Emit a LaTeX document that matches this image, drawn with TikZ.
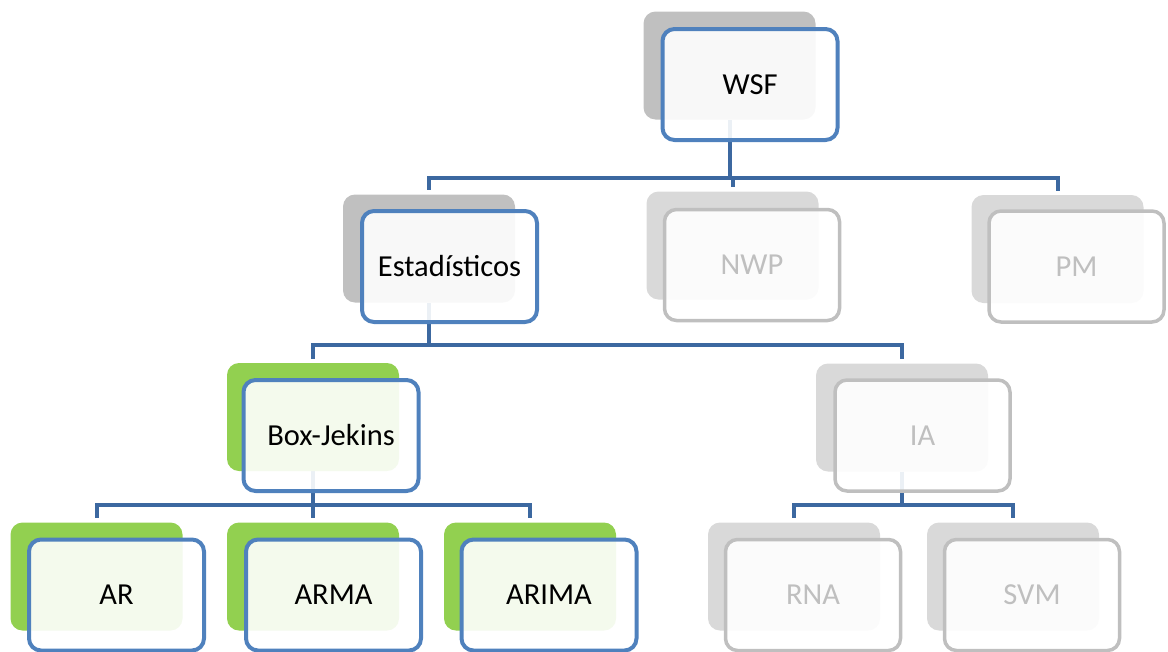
\documentclass[tikz,border=0pt]{standalone}
\usepackage{fontspec}
\setmainfont{Carlito}
\pgfdeclarelayer{bg}
\pgfsetlayers{bg,main}
\definecolor{borderblue}{RGB}{79,129,189}
\definecolor{connblue}{RGB}{60,104,160}
\definecolor{backgrayA}{RGB}{192,192,192}
\definecolor{backgrayI}{RGB}{217,217,217}
\definecolor{backgreen}{RGB}{146,208,80}
\definecolor{bordergray}{RGB}{191,191,191}
\definecolor{textgray}{RGB}{191,191,191}
\begin{document}
\begin{tikzpicture}[x=1pt,y=-1pt,
  backbox/.style={rectangle, rounded corners=12pt, minimum width=172pt, minimum height=108pt, inner sep=0pt},
  backA/.style={backbox, fill=backgrayA},
  backG/.style={backbox, fill=backgreen},
  backI/.style={backbox, fill=backgrayI},
  frontbox/.style={rectangle, rounded corners=12pt, minimum width=175pt, minimum height=111pt, inner sep=0pt,
    fill=white, fill opacity=0.9, text opacity=1, font=\fontsize{30.5}{36}\selectfont},
  frontA/.style={frontbox, draw=borderblue, line width=4pt, text=black},
  frontI/.style={frontbox, draw=bordergray, line width=3.5pt, text=textgray},
  conn/.style={draw=connblue, line width=4pt}]
\useasboundingbox (0,0) rectangle (1168,651);

% level 0
\node[backA] (wsfb) at (729.5,65.5) {};
\node[frontA] (wsf) at (750,84.5) {WSF};

% level 1
\node[backA] (estb) at (429,248.5) {};
\node[frontA] (est) at (449.5,266.5) {Estadísticos};
\node[backI] (nwpb) at (732.5,245.5) {};
\node[frontI] (nwp) at (752,265) {NWP};
\node[backI] (pmb) at (1057.5,249) {};
\node[frontI] (pm) at (1076.5,266.5) {PM};

% level 2
\node[backG] (bjb) at (313,417) {};
\node[frontA] (bj) at (331,435.5) {Box-Jekins};
\node[backI] (iab) at (902,417.5) {};
\node[frontI] (ia) at (922.5,435.5) {IA};

% level 3
\node[backG] (arb) at (96.5,576.5) {};
\node[frontA] (ar) at (116.5,595) {AR};
\node[backG] (armab) at (313,576.5) {};
\node[frontA] (arma) at (333.5,595) {ARMA};
\node[backG] (arimab) at (530,576.5) {};
\node[frontA] (arima) at (549,595) {ARIMA};
\node[backI] (rnab) at (794,576.5) {};
\node[frontI] (rna) at (813,595) {RNA};
\node[backI] (svmb) at (1013,576.5) {};
\node[frontI] (svm) at (1032,595) {SVM};

\coordinate (bus0) at (0,178);
\coordinate (bus1) at (0,345);
\coordinate (bus2) at (0,505);

\begin{pgfonlayer}{bg}
  \foreach \c in {estb,nwpb,pmb}
    \draw[conn, shorten >=4pt] (wsfb.south) -- (wsfb.south |- bus0) -| (\c.north);
  \foreach \c in {bjb,iab}
    \draw[conn, shorten >=4pt] (estb.south) -- (estb.south |- bus1) -| (\c.north);
  \foreach \c in {arb,armab,arimab}
    \draw[conn, shorten >=4pt] (bjb.south) -- (bjb.south |- bus2) -| (\c.north);
  \foreach \c in {rnab,svmb}
    \draw[conn, shorten >=4pt] (iab.south) -- (iab.south |- bus2) -| (\c.north);
\end{pgfonlayer}
\end{tikzpicture}
\end{document}
